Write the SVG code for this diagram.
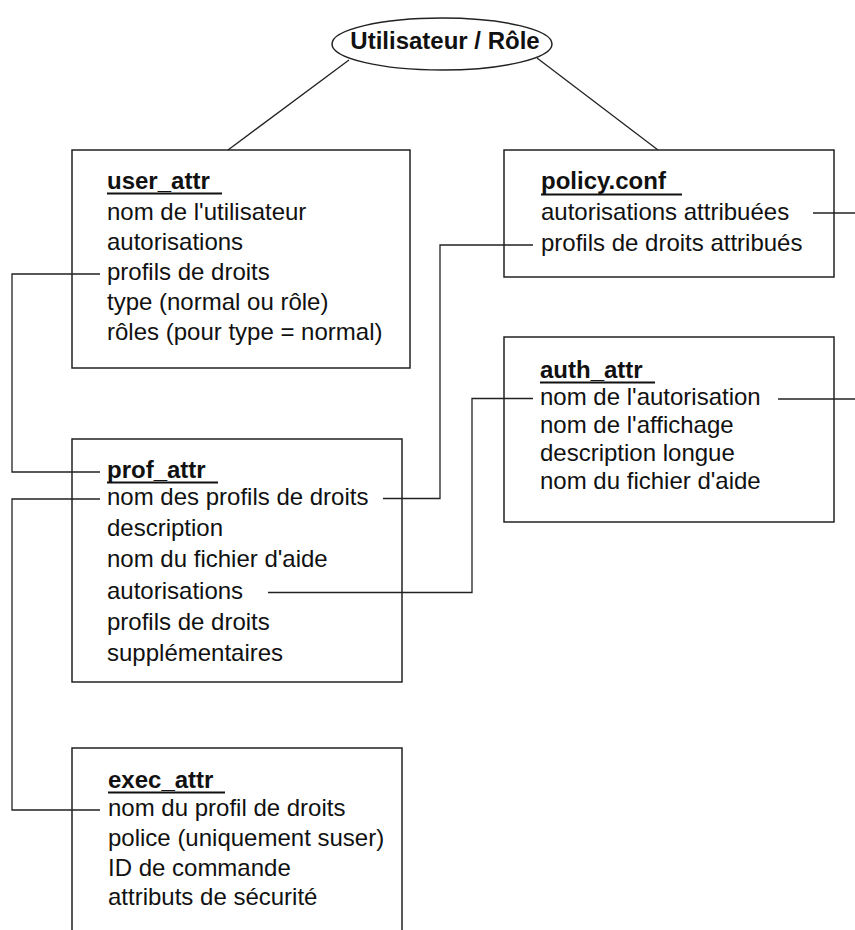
<svg xmlns="http://www.w3.org/2000/svg" width="855" height="930" viewBox="0 0 855 930">
<style>
.box{fill:#fff;stroke:#222;stroke-width:1.5}
.t{font-family:"Liberation Sans",Arial,sans-serif;font-size:24px;fill:#111}
.b{font-weight:bold}
.ul{stroke:#111;stroke-width:2}
.c{fill:none;stroke:#222;stroke-width:1.3}
</style>
<rect width="855" height="930" fill="#fff"/>
<g id="role">
<ellipse cx="442" cy="44" rx="110" ry="26" class="box"/>
<text x="445" y="49" class="t b" text-anchor="middle">Utilisateur / Rôle</text>
</g>
<g id="user_attr">
<rect x="72" y="150" width="338" height="218" class="box"/>
<text x="107" y="189" class="t b">user_attr</text>
<line x1="107" y1="193.5" x2="222" y2="193.5" class="ul"/>
<text x="107" y="220" class="t">nom de l'utilisateur</text>
<text x="107" y="250" class="t">autorisations</text>
<text x="107" y="280" class="t">profils de droits</text>
<text x="107" y="310" class="t">type (normal ou rôle)</text>
<text x="107" y="340" class="t">rôles (pour type = normal)</text>
</g>
<g id="policy_conf">
<rect x="504" y="150" width="330" height="127" class="box"/>
<text x="541" y="189" class="t b">policy.conf</text>
<line x1="541" y1="194.5" x2="682" y2="194.5" class="ul"/>
<text x="541" y="220" class="t">autorisations attribuées</text>
<text x="541" y="251" class="t">profils de droits attribués</text>
</g>
<g id="auth_attr">
<rect x="504" y="337" width="330" height="185" class="box"/>
<text x="540" y="378" class="t b">auth_attr</text>
<line x1="540" y1="382.5" x2="655" y2="382.5" class="ul"/>
<text x="540" y="405" class="t">nom de l'autorisation</text>
<text x="540" y="433" class="t">nom de l'affichage</text>
<text x="540" y="461" class="t">description longue</text>
<text x="540" y="489" class="t">nom du fichier d'aide</text>
</g>
<g id="prof_attr">
<rect x="72" y="439" width="330" height="243" class="box"/>
<text x="107" y="478" class="t b">prof_attr</text>
<line x1="107" y1="482.5" x2="218" y2="482.5" class="ul"/>
<text x="107" y="505" class="t">nom des profils de droits</text>
<text x="107" y="536" class="t">description</text>
<text x="107" y="567" class="t">nom du fichier d'aide</text>
<text x="107" y="599" class="t">autorisations</text>
<text x="107" y="630" class="t">profils de droits</text>
<text x="107" y="661" class="t">supplémentaires</text>
</g>
<g id="exec_attr">
<rect x="72" y="748" width="330" height="200" class="box"/>
<text x="108" y="788" class="t b">exec_attr</text>
<line x1="108" y1="792.5" x2="225" y2="792.5" class="ul"/>
<text x="108" y="816" class="t">nom du profil de droits</text>
<text x="108" y="846" class="t">police (uniquement suser)</text>
<text x="108" y="876" class="t">ID de commande</text>
<text x="108" y="905" class="t">attributs de sécurité</text>
</g>
<g id="connectors">
<line x1="349" y1="60" x2="228" y2="150" class="c"/>
<line x1="537" y1="58" x2="658" y2="150" class="c"/>
<polyline points="100,274 12,274 12,472 100,472" class="c"/>
<polyline points="100,499 12,499 12,810 100,810" class="c"/>
<polyline points="383,498.5 440,498.5 440,245 533,245" class="c"/>
<polyline points="268,592.5 472,592.5 472,398.5 533,398.5" class="c"/>
<line x1="813" y1="213" x2="855" y2="213" class="c"/>
<line x1="778" y1="399" x2="855" y2="399" class="c"/>
</g>
</svg>
